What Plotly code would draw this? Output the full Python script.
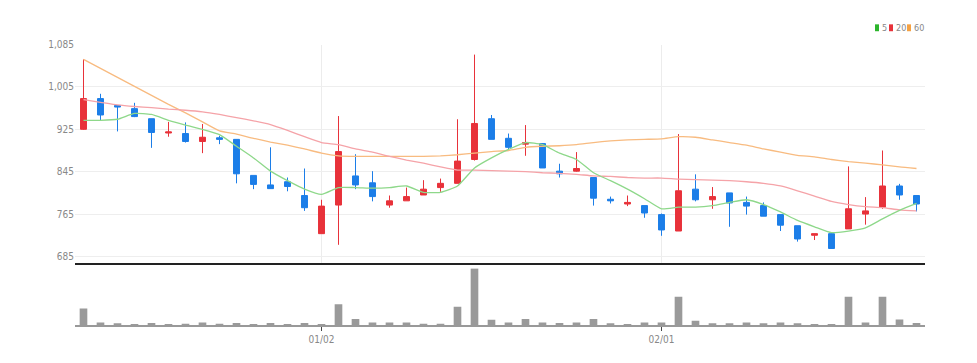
import plotly.graph_objects as go

dates = (
    ["2022-12-%02d" % d for d in [12, 13, 14, 15, 16, 19, 20, 21, 22, 23, 26, 27, 28, 29]]
    + ["2023-01-%02d" % d for d in [2, 3, 4, 5, 6, 9, 10, 11, 12, 13, 16, 17, 18, 19, 20, 25, 26, 27, 30, 31]]
    + ["2023-02-%02d" % d for d in [1, 2, 3, 6, 7, 8, 9, 10, 13, 14, 15, 16, 17, 20, 21, 22]]
)

opens = [925, 983, 970, 964, 945, 918, 917, 902, 909, 906,
         838, 820, 826, 800, 728, 782, 837, 824, 782, 790,
         801, 815, 823, 868, 945, 908, 897, 898, 846, 846,
         834, 793, 784, 781, 764, 733, 812, 792, 805, 787,
         781, 764, 743, 725, 728, 737, 765, 778, 818, 800]
highs = [1057, 992, 970, 975, 945, 939, 938, 935, 913, 906,
         838, 891, 834, 851, 792, 950, 878, 846, 800, 815,
         829, 832, 944, 1066, 952, 917, 933, 898, 860, 882,
         834, 798, 800, 781, 766, 916, 840, 816, 805, 798,
         787, 764, 743, 728, 730, 855, 797, 885, 822, 800]
lows = [924, 941, 921, 948, 890, 911, 900, 880, 897, 823,
        812, 813, 808, 771, 728, 707, 812, 789, 777, 790,
        801, 807, 823, 866, 906, 885, 875, 852, 834, 845,
        781, 785, 780, 758, 724, 733, 789, 775, 741, 764,
        761, 733, 713, 716, 700, 737, 745, 775, 792, 770]
closes = [983, 952, 967, 949, 919, 920, 902, 910, 906, 841,
          821, 813, 817, 777, 780, 883, 820, 798, 790, 798,
          812, 823, 865, 936, 906, 891, 900, 852, 841, 851,
          795, 790, 787, 767, 735, 809, 792, 798, 786, 780,
          761, 744, 718, 728, 700, 775, 771, 818, 801, 784]

ma5 = [942, 942, 944, 955, 953, 942, 933, 925, 915, 893,
       871, 846, 828, 812, 802, 815, 815, 814, 815, 818,
       806, 806, 818, 852, 871, 887, 900, 896, 880, 868,
       843, 828, 812, 794, 775, 778, 778, 781, 787, 792,
       783, 769, 753, 741, 730, 733, 739, 756, 772, 785]
ma20 = [981, 976, 971, 968, 966, 963, 961, 958, 953, 947,
        941, 934, 923, 911, 900, 896, 888, 882, 874, 867,
        861, 854, 848, 848, 847, 846, 845, 843, 842, 840,
        837, 836, 834, 833, 833, 831, 830, 829, 828, 826,
        823, 818, 809, 799, 789, 783, 779, 777, 773, 771]
ma60 = [1057, 1040, 1023, 1006, 989, 972, 956, 939, 922, 916,
        908, 901, 895, 888, 880, 875, 874, 874, 874, 874,
        874, 875, 877, 880, 883, 885, 891, 893, 894, 896,
        900, 903, 905, 906, 907, 911, 910, 905, 900, 895,
        888, 882, 876, 873, 868, 864, 861, 858, 854, 851]

volumes = [48, 8, 6, 4, 7, 4, 5, 8, 5, 7,
           4, 7, 4, 7, 4, 60, 18, 8, 8, 8,
           5, 5, 53, 161, 16, 8, 18, 8, 7, 8,
           18, 6, 4, 8, 8, 81, 13, 6, 6, 8,
           6, 8, 6, 4, 4, 81, 8, 81, 17, 7]
volumes = [v * 1000 for v in volumes]

y_ticks = [685, 765, 845, 925, 1005, 1085]
x_tick_vals = ["2023-01-02", "2023-02-01"]
x_tick_text = ["01/02", "02/01"]
legend_names = ["5", "20", "60"]

RED = "#e8323a"
BLUE = "#1c7ee8"
C5 = "#8ed88a"
C20 = "#f5a3a8"
C60 = "#f8bb80"
FONT = "Liberation Sans Narrow, DejaVu Sans Condensed, Liberation Sans, sans-serif"

# page body has an 8px margin; size the figure so it sits inside the window
OFF = 8
W, H = 977 - 2 * OFF, 363 - 2 * OFF


def fx(px):
    return (px - OFF) / W


def fy(py):
    return 1 - (py - OFF) / H


fig = go.Figure()

fig.add_trace(go.Candlestick(
    x=dates, open=opens, high=highs, low=lows, close=closes,
    increasing=dict(line=dict(color=RED, width=1), fillcolor=RED),
    decreasing=dict(line=dict(color=BLUE, width=1), fillcolor=BLUE),
    whiskerwidth=0, showlegend=False, xaxis="x", yaxis="y",
))
for vals, col in [(ma60, C60), (ma20, C20), (ma5, C5)]:
    fig.add_trace(go.Scatter(x=dates, y=vals, mode="lines",
                             line=dict(color=col, width=1.3, shape="spline", smoothing=0.5),
                             showlegend=False, xaxis="x", yaxis="y", hoverinfo="skip"))

fig.add_trace(go.Bar(x=dates, y=volumes, marker=dict(color="#9a9a9a", line=dict(width=0)),
                     showlegend=False, xaxis="x2", yaxis="y2"))

xdom = [fx(75), fx(925)]

fig.update_layout(
    width=W, height=H,
    margin=dict(l=0, r=0, t=0, b=0),
    paper_bgcolor="white", plot_bgcolor="white",
    boxgap=0.5, bargap=0.55,
    font=dict(family=FONT, size=10, color="#888"),
    xaxis=dict(domain=xdom, type="category", range=[-0.5, len(dates) - 0.5],
               tickvals=x_tick_vals, ticktext=x_tick_text, showticklabels=False,
               showgrid=True, gridcolor="#ececec", gridwidth=1,
               showline=True, linecolor="#222", linewidth=2,
               rangeslider=dict(visible=False), anchor="y", zeroline=False),
    yaxis=dict(domain=[fy(262), fy(40)], range=[672, 1085],
               tickvals=y_ticks, tickformat=",d", showgrid=True, gridcolor="#eeeeee",
               zeroline=False, ticks="", ticklen=0, anchor="x",
               tickfont=dict(family=FONT, size=10, color="#888")),
    xaxis2=dict(domain=xdom, type="category", range=[-0.5, len(dates) - 0.5],
                tickvals=x_tick_vals, ticktext=x_tick_text, showgrid=False,
                showline=True, linecolor="#999", linewidth=2,
                ticks="outside", ticklen=4, tickcolor="#444",
                tickfont=dict(family=FONT, size=10, color="#888"), anchor="y2", zeroline=False),
    yaxis2=dict(domain=[fy(325), fy(267)], range=[0, 162000],
                showticklabels=False, showgrid=False, zeroline=False, anchor="x2"),
)

leg_cols = ["#2cb52c", RED, "#f5a142"]
sq_x = [875, 889, 907]
txt_x = [879.5, 893.5, 911.5]
for name, col, x0, x1 in zip(legend_names, leg_cols, sq_x, txt_x):
    fig.add_shape(type="rect", xref="paper", yref="paper",
                  x0=fx(x0), x1=fx(x0 + 4), y0=fy(26.5), y1=fy(19.5),
                  fillcolor=col, line=dict(width=0))
    fig.add_annotation(x=fx(x1), y=fy(23), xref="paper", yref="paper",
                       text=name, showarrow=False, xanchor="left", yanchor="middle",
                       font=dict(family=FONT, size=9, color="#888"))

fig.write_html("out.html")
